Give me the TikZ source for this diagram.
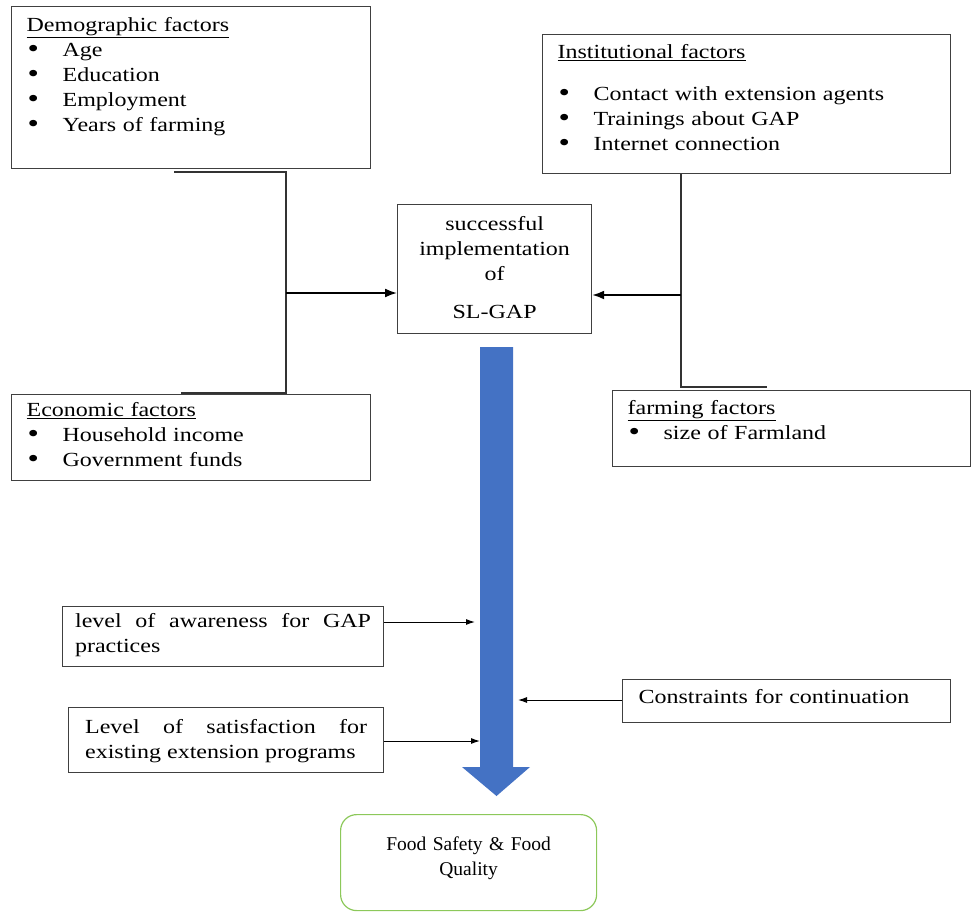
\documentclass[tikz,border=0pt]{standalone}
\usepackage{fontspec}
\setmainfont{Liberation Serif}[FakeStretch=1.2]
\newfontfamily\foodfont{Liberation Serif}
\usetikzlibrary{arrows.meta,positioning}
\definecolor{flowblue}{HTML}{4472C4}
\definecolor{foodgreen}{RGB}{140,200,90}
\hyphenpenalty=10000
\tolerance=9999
\newcommand{\bitem}[1]{\makebox[36pt][l]{\hspace{1pt}\raisebox{-0.8pt}{\scalebox{1.35}{\textbullet}}}#1}
\tikzset{
factor/.style={
  draw=black!75,
  line width=1.2pt,
  anchor=north west,
  align=left,
  inner xsep=15pt,
  inner ysep=0pt,
  font=\fontsize{20}{25}\selectfont
  },
link/.style={draw=black!80, line width=1.8pt},
feed/.style={-{Latex[length=12pt,width=9pt]}, line width=1.8pt},
hint/.style={-{Latex[length=9pt,width=6pt]}, line width=1pt}
}

\begin{document}
\begin{tikzpicture}[x=1pt,y=-1pt]
\useasboundingbox (0,0) rectangle (972,911);

\node[factor, text width=329pt, text height=25pt, text depth=137pt]
at (11,6) (demo)
{\underline{Demographic factors}\\
 \bitem{Age}\\
 \bitem{Education}\\
 \bitem{Employment}\\
 \bitem{Years of farming}};
\node[factor, text width=378pt, text height=24pt, text depth=115pt]
at (542,34) (inst)
{\underline{Institutional factors}\\[17pt]
 \bitem{Contact with extension agents}\\
 \bitem{Trainings about GAP}\\
 \bitem{Internet connection}};
\node[factor, text width=329pt, text height=22pt, text depth=64pt]
at (11,394) (econ)
{\underline{Economic factors}\\
 \bitem{Household income}\\
 \bitem{Government funds}};
\node[factor, text width=328pt, text height=24pt, text depth=52pt]
at (612,390) (farm)
{\underline{farming factors}\\
 \bitem{size of Farmland}};

\node[factor, align=center, inner xsep=0pt, text width=194pt,
  text height=26pt, text depth=103pt]
at (397,204) (slgap)
{successful\\
 implementation\\
 of\\[13pt]
 SL-GAP};

\node[factor, align=justify, inner xsep=12.5pt, text width=296pt,
  text height=21pt, text depth=39pt]
at (62,606) (aware)
{level of awareness for GAP practices};
\node[factor, align=justify, inner xsep=16.5pt, text width=282pt,
  text height=26pt, text depth=39pt]
at (68,707) (sat)
{Level of satisfaction for existing extension programs};
\node[factor, inner xsep=16pt, text width=296pt,
  text height=24pt, text depth=19pt]
at (622,679) (constr)
{Constraints for continuation};

\node[factor, draw=foodgreen, rounded corners=16pt, align=center,
  inner xsep=0pt, text width=256pt, text height=36pt, text depth=60pt,
  font=\foodfont\fontsize{19.5}{25}\selectfont]
at (340,814) (food)
{Food Safety \& Food\\
 Quality};

% main flow
\fill[flowblue] (480,347) -- (513,347) -- (513,767) -- (530,767)
  -- (496.5,796) -- (462,767) -- (480,767) -- cycle;

% left and right brackets
\coordinate (jl) at (286,293);
\coordinate (demo-tap) at (174,172);
\coordinate (econ-tap) at (181,393);
\draw[link] (demo-tap) -| (jl) |- (econ-tap);
\draw[feed] (jl) -- (jl -| slgap.west);

\coordinate (jr) at (681,295);
\coordinate (farm-tap) at (767,387);
\draw[link] (jr |- inst.south) -- (jr) |- (farm-tap);
\draw[feed] (jr) -- (jr -| slgap.east);

% side inputs
\coordinate (aware-tip) at (475,622);
\draw[hint] (aware-tip -| aware.east) -- (aware-tip);
\coordinate (sat-tip) at (480,741);
\draw[hint] (sat-tip -| sat.east) -- (sat-tip);
\coordinate (constr-tip) at (518,700);
\draw[hint] (constr-tip -| constr.west) -- (constr-tip);
\end{tikzpicture}
\end{document}
